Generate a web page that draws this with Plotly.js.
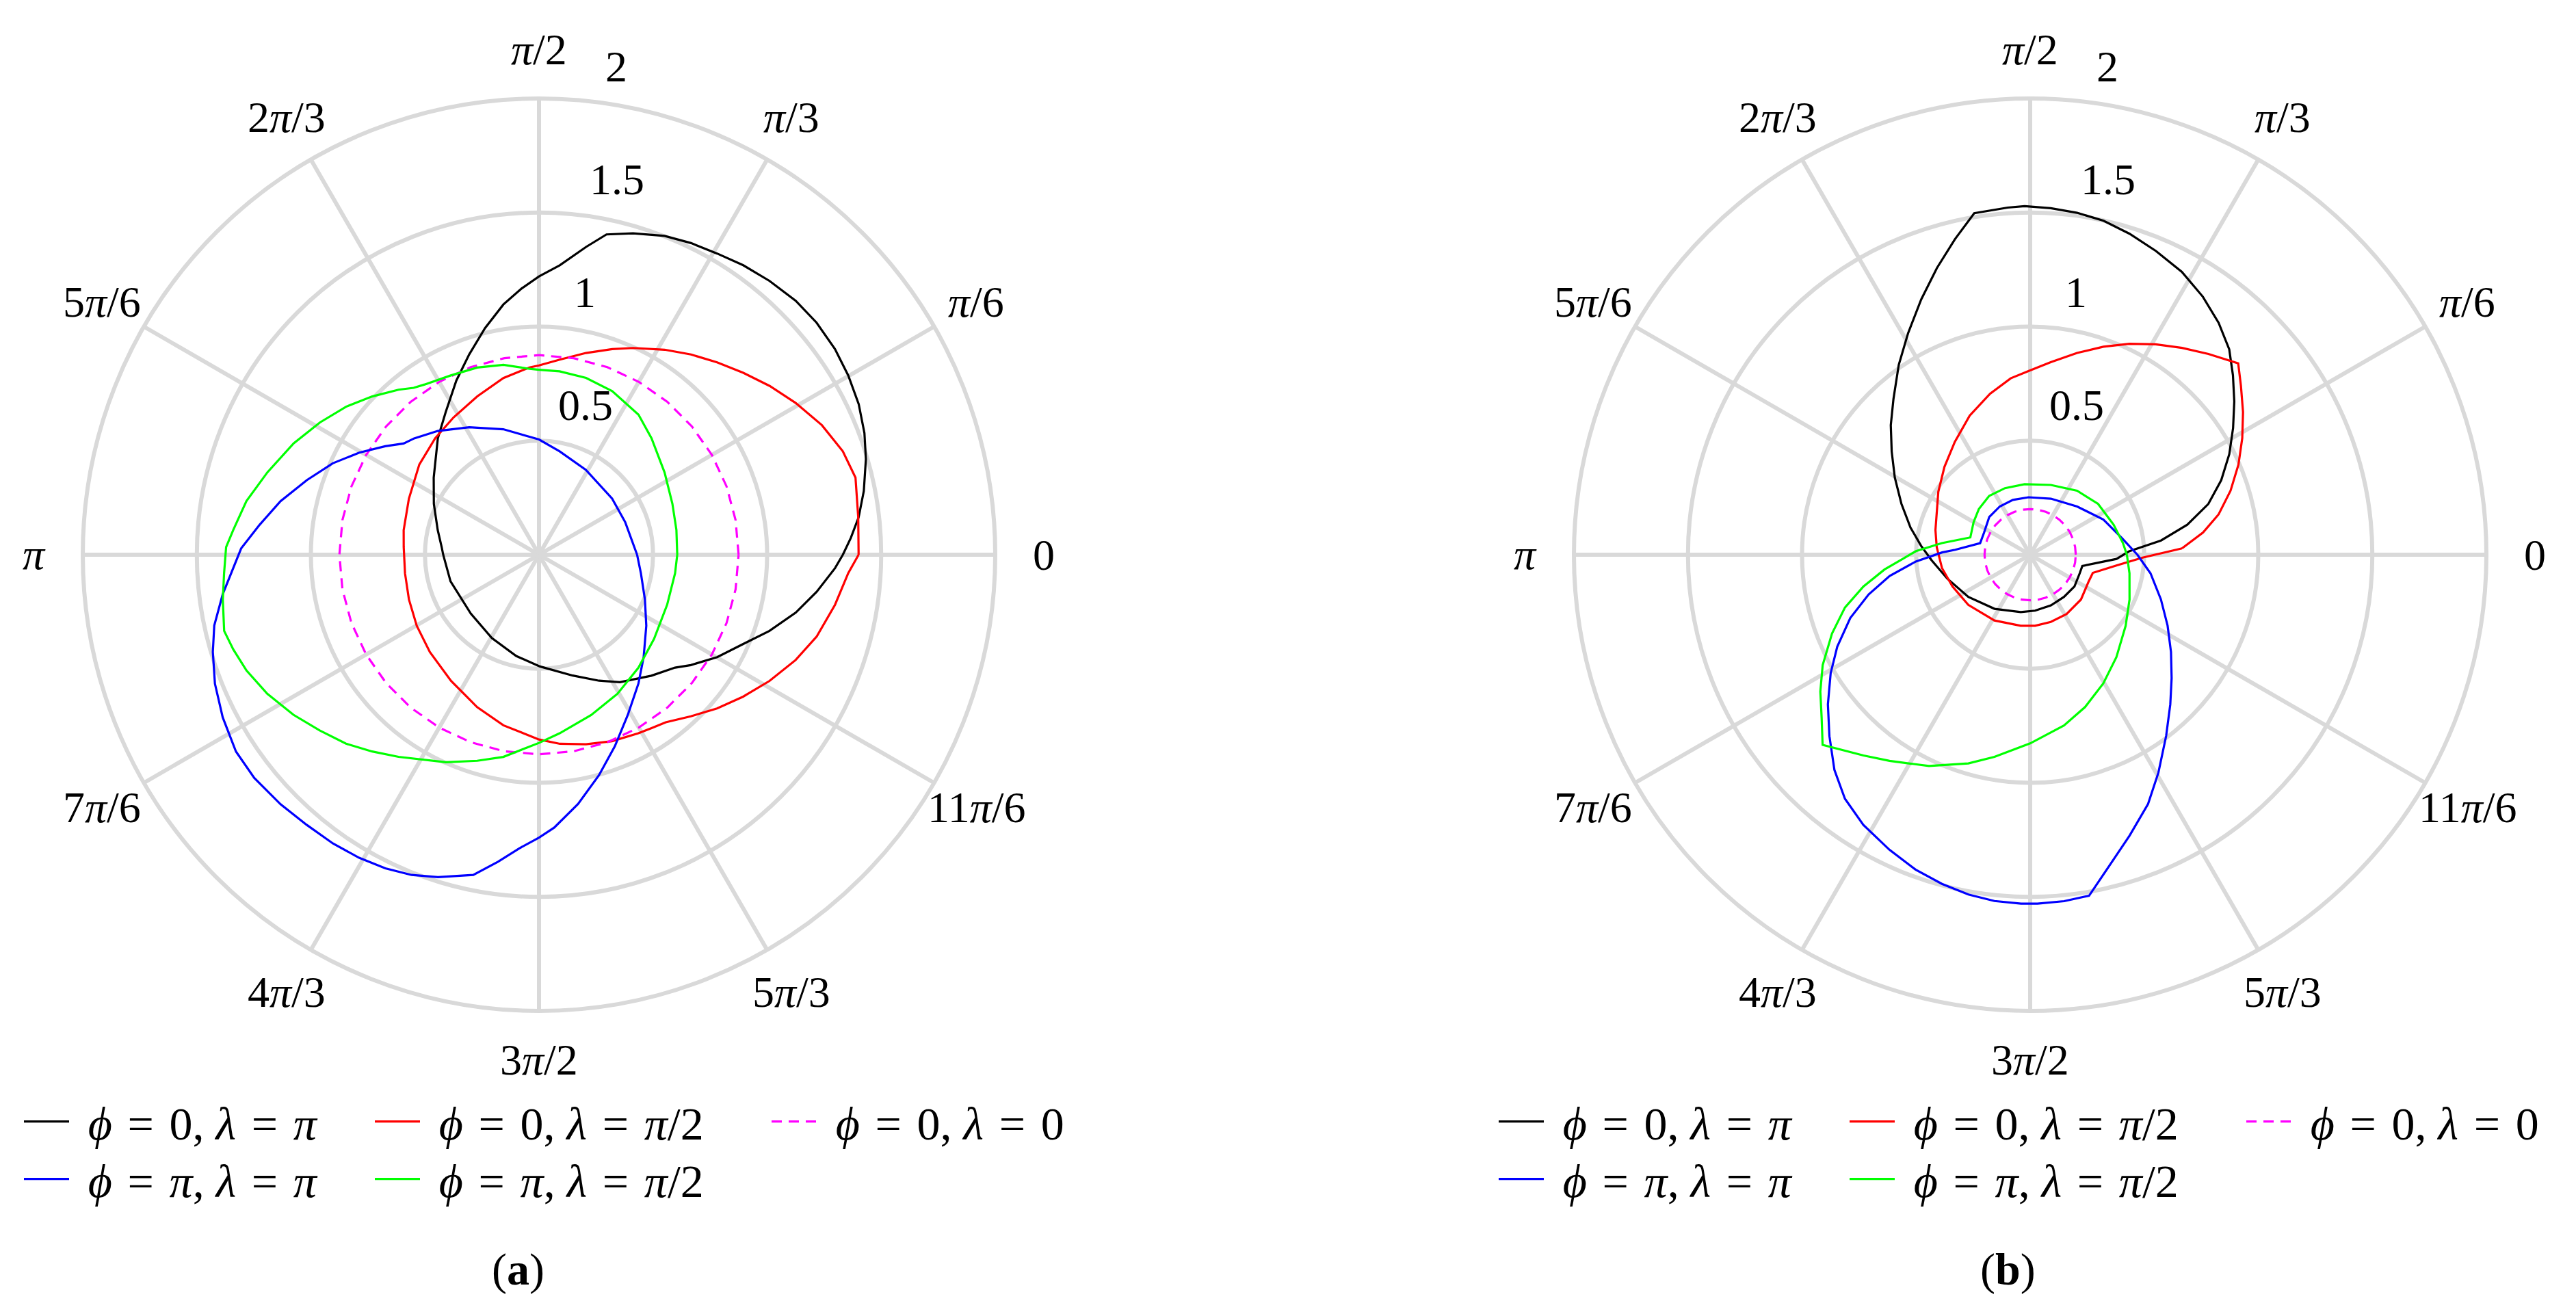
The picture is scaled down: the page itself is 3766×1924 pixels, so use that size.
<!DOCTYPE html>
<html>
<head>
<meta charset="utf-8">
<script src="https://cdn.plot.ly/plotly-3.0.1.min.js"></script>
<style>
html,body{margin:0;padding:0;background:#ffffff;}
#chart{width:3766px;height:1924px;}
</style>
</head>
<body>
<div id="chart"></div>
<script>
// ---------------- data (theta in degrees, r) ----------------
// Panel (a)
const thetaA_black = [0,3.1,6.7,11.1,16.3,20.5,25.2,30.1,34.8,39.9,44.7,49.9,54.8,59.4,64.0,68.5,73.7,78.1,81.3,85.9,90,93.7,98.1,103.4,109.2,115.4,123.2,131.0,143.8,154.2,166.3,175.5,180,196.7,220.8,240.5,257.3,270.5,285.6,295.5,302.4,312.9,320.3,324.0,330.1,336.4,341.7,347.3,352.4,357.4,360];
const rA_black     = [1.332,1.369,1.411,1.451,1.493,1.523,1.549,1.567,1.580,1.586,1.583,1.569,1.553,1.534,1.520,1.502,1.468,1.435,1.365,1.272,1.220,1.170,1.108,1.021,0.930,0.845,0.747,0.676,0.572,0.512,0.457,0.428,0.420,0.405,0.395,0.420,0.455,0.490,0.550,0.612,0.662,0.724,0.775,0.823,0.901,0.977,1.064,1.154,1.228,1.299,1.332];

const thetaA_red = [0,6.7,13.7,18.8,24.6,30.6,36.2,41.7,47.2,52.8,58.5,65.5,70.4,76.9,83.9,90,92.9,101.4,111.3,121.9,131.7,143.0,156.7,169.7,176.8,187.9,199.0,210.2,221.7,235.1,247.9,258.2,270,276.3,283.9,291.4,299.1,303.0,307.1,313.2,319.2,325.2,331.3,337.7,343.6,350.4,356.6,360];
const rA_red     = [1.401,1.409,1.428,1.407,1.364,1.307,1.253,1.199,1.149,1.102,1.054,0.996,0.957,0.908,0.860,0.830,0.822,0.790,0.745,0.709,0.684,0.657,0.621,0.603,0.594,0.593,0.603,0.620,0.641,0.674,0.721,0.764,0.810,0.834,0.856,0.878,0.896,0.906,0.921,0.972,1.031,1.090,1.152,1.216,1.269,1.316,1.358,1.401];

const thetaA_magenta = [0,10,20,30,40,50,60,70,80,90,100,110,120,130,140,150,160,170,180,190,200,210,220,230,240,250,260,270,280,290,300,310,320,330,340,350,360];
const rA_magenta     = [0.875,0.875,0.875,0.875,0.875,0.875,0.875,0.875,0.875,0.875,0.875,0.875,0.875,0.875,0.875,0.875,0.875,0.875,0.875,0.875,0.875,0.875,0.875,0.875,0.875,0.875,0.875,0.875,0.875,0.875,0.875,0.875,0.875,0.875,0.875,0.875,0.875];

const thetaA_blue = [0,20.7,37.5,61.1,78.7,90,105.9,118.7,129.3,137.0,140.6,144.8,150.4,156.1,162.2,168.3,173.9,178.8,187.1,192.3,196.6,201.7,207.2,213.0,218.1,224.0,229.3,234.5,239.3,243.9,248.3,252.6,258.4,262.4,266.1,270,273.2,278.9,285.2,291.6,299.0,307.7,315.6,326.5,337.1,349.7,360];
const rA_blue     = [0.430,0.404,0.404,0.425,0.462,0.505,0.572,0.637,0.701,0.748,0.768,0.825,0.906,0.989,1.069,1.157,1.232,1.306,1.397,1.457,1.492,1.529,1.559,1.584,1.586,1.575,1.562,1.555,1.545,1.531,1.511,1.481,1.433,1.358,1.291,1.240,1.198,1.106,1.002,0.903,0.803,0.713,0.642,0.564,0.504,0.454,0.430];

const thetaA_green = [0,10.2,20.9,33.2,46.0,54.6,65.9,75.1,83.6,90,92.9,100.6,108.3,116.2,123.9,126.9,130.4,136.5,142.5,148.9,155.6,163.1,169.6,175.4,178.6,183.4,188.1,193.6,197.2,201.6,207.1,213.1,218.7,224.4,229.7,235.2,245.8,253.3,260,270,276.6,288,299.4,311.3,323.8,338.7,352.2,360];
const rA_green     = [0.606,0.612,0.626,0.658,0.710,0.753,0.786,0.802,0.809,0.811,0.816,0.847,0.864,0.876,0.899,0.915,0.950,1.008,1.066,1.122,1.181,1.244,1.304,1.345,1.372,1.383,1.400,1.420,1.403,1.379,1.338,1.285,1.232,1.184,1.131,1.079,0.997,0.943,0.900,0.825,0.788,0.739,0.700,0.660,0.625,0.603,0.602,0.606];

// Panel (b)
const thetaB_black = [2.1,6.2,10.8,15.9,21.3,26.8,32.0,36.9,41.5,45.9,50.9,56.2,61.8,67.5,72.8,77.6,82.2,86.6,90.9,93.7,99.3,103.4,108.0,113.1,118.9,124.7,131.3,137.1,143.3,150.3,158.4,167.2,175.3,183.2,196.1,214.3,236.6,260.7,275.1,292.3,308.7,324.4,339.4,347.8,357.2,362.1];
const rB_black     = [0.436,0.577,0.701,0.812,0.899,0.978,1.049,1.119,1.187,1.254,1.310,1.361,1.407,1.441,1.473,1.499,1.513,1.522,1.528,1.525,1.517,1.422,1.322,1.217,1.108,1.012,0.908,0.834,0.757,0.683,0.607,0.538,0.480,0.433,0.378,0.328,0.284,0.255,0.246,0.240,0.237,0.239,0.232,0.234,0.379,0.436];

const thetaB_red = [2.4,7.3,12.1,17.7,23.4,28.8,33.8,38.7,42.6,48.4,53.7,59.2,64.8,70.6,76.9,83.9,90,96.3,104.0,113.5,123.7,134.3,145.6,165.4,175.3,188.6,202.2,219.0,241.5,262.4,274.0,287.1,301.6,318.6,335.7,343.9,352.9,358.5,362.4];
const rB_red     = [0.666,0.764,0.845,0.922,0.995,1.061,1.123,1.184,1.239,1.177,1.125,1.074,1.022,0.967,0.908,0.849,0.808,0.778,0.727,0.665,0.595,0.538,0.488,0.429,0.411,0.391,0.368,0.349,0.328,0.314,0.312,0.308,0.305,0.297,0.282,0.286,0.381,0.493,0.666];

const thetaB_magenta = [0,10,20,30,40,50,60,70,80,90,100,110,120,130,140,150,160,170,180,190,200,210,220,230,240,250,260,270,280,290,300,310,320,330,340,350,360];
const rB_magenta     = [0.2,0.2,0.2,0.2,0.2,0.2,0.2,0.2,0.2,0.2,0.2,0.2,0.2,0.2,0.2,0.2,0.2,0.2,0.2,0.2,0.2,0.2,0.2,0.2,0.2,0.2,0.2,0.2,0.2,0.2,0.2,0.2,0.2,0.2,0.2,0.2,0.2];

const thetaB_blue = [0,10.4,25.7,45.8,69.7,91.6,107.5,122.2,137.3,154.5,167.0,176.2,178.5,183.4,188.6,193.8,199.4,205.5,210.7,216.5,222.1,227.7,232.8,238.3,244.5,250,255,259.7,264.1,268.5,271.2,275.6,279.8,284.1,289.5,295.3,300.5,306.9,313.1,318.9,325.4,332.7,341.1,351.2,360];
const rB_blue     = [0.470,0.408,0.356,0.295,0.262,0.252,0.252,0.250,0.244,0.224,0.225,0.329,0.386,0.502,0.623,0.729,0.836,0.937,1.017,1.103,1.186,1.275,1.343,1.392,1.433,1.469,1.494,1.514,1.526,1.530,1.530,1.526,1.517,1.411,1.306,1.209,1.108,0.993,0.899,0.823,0.750,0.678,0.606,0.534,0.470];

const thetaB_green = [0,7.1,19.7,36.8,53.7,73.5,94.5,110.7,124.9,138.4,150.1,163.9,172.5,178.2,181.9,185.8,190.8,195.9,201.7,208.0,213.1,218.0,222.5,230.3,235.7,244.4,253.5,260,270,281.2,289.8,299.6,310.1,323.3,335.7,349.4,360];
const rB_green     = [0.424,0.410,0.389,0.372,0.348,0.319,0.310,0.312,0.314,0.301,0.286,0.273,0.390,0.501,0.559,0.642,0.744,0.844,0.935,1.030,1.098,1.160,1.234,1.144,1.094,1.027,0.954,0.900,0.827,0.763,0.710,0.649,0.587,0.522,0.478,0.443,0.424];

// ticks and labels
const angularTickVals = [0,30,60,90,120,150,180,210,240,270,300,330];
const angularTickText = ['0','<i>π</i>/6','<i>π</i>/3','<i>π</i>/2','2<i>π</i>/3','5<i>π</i>/6','<i>π</i>','7<i>π</i>/6','4<i>π</i>/3','3<i>π</i>/2','5<i>π</i>/3','11<i>π</i>/6'];
const radialTickVals = [0.5,1,1.5,2];
const radialTickText = ['0.5','1','1.5','2'];
const SP = '\u2004';
const seriesNames = [
  SP + '<i>ϕ</i>' + SP + '=' + SP + '0, <i>λ</i>' + SP + '=' + SP + '<i>π</i>',
  SP + '<i>ϕ</i>' + SP + '=' + SP + '0, <i>λ</i>' + SP + '=' + SP + '<i>π</i>/2',
  SP + '<i>ϕ</i>' + SP + '=' + SP + '0, <i>λ</i>' + SP + '=' + SP + '0',
  SP + '<i>ϕ</i>' + SP + '=' + SP + '<i>π</i>, <i>λ</i>' + SP + '=' + SP + '<i>π</i>',
  SP + '<i>ϕ</i>' + SP + '=' + SP + '<i>π</i>, <i>λ</i>' + SP + '=' + SP + '<i>π</i>/2'
];
const panelTitles = ['(<b>a</b>)','(<b>b</b>)'];

// ---------------- styling / geometry ----------------
const W = 3766, H = 1924;
const FONT = 'Liberation Serif, Times New Roman, serif';
const GRID = '#d9d9d9';
const R = 667;                 // polar radius in px
const centersPx = [[788, 811], [2968, 811]];
const colors = ['#000000', '#ff0000', '#ff00ff', '#0000ff', '#00ff00'];

function dom(c) {
  return {
    x: [(c[0] - R) / W, (c[0] + R) / W],
    y: [1 - (c[1] + R) / H, 1 - (c[1] - R) / H]
  };
}

function curve(theta, r, idx, subplot, legend, lw) {
  const t = {
    type: 'scatterpolar', mode: 'lines', subplot: subplot,
    theta: theta, r: r, thetaunit: 'degrees',
    name: seriesNames[idx], legend: legend,
    line: {color: colors[idx], width: 3.2, dash: idx === 2 ? '15px,10px' : 'solid'},
    hoverinfo: 'skip', cliponaxis: false
  };
  if (lw) t.legendwidth = lw;
  return t;
}

const traces = [
  curve(thetaA_black, rA_black, 0, 'polar', 'legend', 432),
  curve(thetaA_red, rA_red, 1, 'polar', 'legend', 499),
  curve(thetaA_magenta, rA_magenta, 2, 'polar', 'legend', 0),
  curve(thetaA_blue, rA_blue, 3, 'polar', 'legend2', 432),
  curve(thetaA_green, rA_green, 4, 'polar', 'legend2', 499),
  curve(thetaB_black, rB_black, 0, 'polar2', 'legend3', 432),
  curve(thetaB_red, rB_red, 1, 'polar2', 'legend3', 499),
  curve(thetaB_magenta, rB_magenta, 2, 'polar2', 'legend3', 0),
  curve(thetaB_blue, rB_blue, 3, 'polar2', 'legend4', 432),
  curve(thetaB_green, rB_green, 4, 'polar2', 'legend4', 499)
];

function polarCfg(c) {
  return {
    domain: dom(c),
    bgcolor: '#ffffff',
    angularaxis: {
      direction: 'counterclockwise', rotation: 0,
      tickmode: 'array', tickvals: angularTickVals,
      showticklabels: false, ticks: '',
      showgrid: true, gridcolor: GRID, gridwidth: 6,
      showline: true, linecolor: GRID, linewidth: 6,
      layer: 'below traces'
    },
    radialaxis: {
      range: [0, 2], tickmode: 'array', tickvals: radialTickVals,
      showticklabels: false, ticks: '', showline: false,
      showgrid: true, gridcolor: GRID, gridwidth: 6,
      layer: 'below traces'
    }
  };
}

// tick labels placed around each polar disc
const annotations = [];
const LABEL_K = 1.107;
const RAD_ANG = 82.1 * Math.PI / 180;
centersPx.forEach((c, p) => {
  angularTickVals.forEach((a, i) => {
    const t = a * Math.PI / 180;
    const px = c[0] + LABEL_K * R * Math.cos(t);
    const py = c[1] - LABEL_K * R * Math.sin(t);
    annotations.push({
      xref: 'paper', yref: 'paper', x: px / W, y: 1 - py / H,
      text: angularTickText[i], showarrow: false,
      xanchor: 'center', yanchor: 'middle',
      font: {family: FONT, size: 64, color: '#000'}
    });
  });
  radialTickVals.forEach((v, i) => {
    const rr = v / 2 * R;
    const px = c[0] + rr * Math.cos(RAD_ANG) + 3;
    const py = c[1] - rr * Math.sin(RAD_ANG) - 53;
    annotations.push({
      xref: 'paper', yref: 'paper', x: px / W, y: 1 - py / H,
      text: radialTickText[i], showarrow: false,
      xanchor: 'left', yanchor: 'middle',
      font: {family: FONT, size: 64, color: '#000'}
    });
  });
});
annotations.push({xref:'paper', yref:'paper', x: 757 / W, y: 1 - 1856 / H, text: panelTitles[0], showarrow:false, xanchor:'center', yanchor:'middle', font:{family: FONT, size: 66, color:'#000'}});
annotations.push({xref:'paper', yref:'paper', x: 2935 / W, y: 1 - 1856 / H, text: panelTitles[1], showarrow:false, xanchor:'center', yanchor:'middle', font:{family: FONT, size: 66, color:'#000'}});

const legendBase = {
  orientation: 'h', xanchor: 'left', yanchor: 'middle',
  bgcolor: 'rgba(0,0,0,0)', borderwidth: 0, itemwidth: 66,
  font: {family: FONT, size: 68, color: '#000'},
  itemclick: false, itemdoubleclick: false, tracegroupgap: 0
};

const layout = {
  width: W, height: H,
  margin: {l: 0, r: 0, t: 0, b: 0},
  paper_bgcolor: '#ffffff',
  font: {family: FONT, size: 64, color: '#000'},
  showlegend: true,
  polar: polarCfg(centersPx[0]),
  polar2: polarCfg(centersPx[1]),
  legend:  Object.assign({}, legendBase, {x: 30 / W,   y: 1 - 1640 / H}),
  legend2: Object.assign({}, legendBase, {x: 30 / W,   y: 1 - 1724 / H}),
  legend3: Object.assign({}, legendBase, {x: 2186 / W, y: 1 - 1640 / H}),
  legend4: Object.assign({}, legendBase, {x: 2186 / W, y: 1 - 1724 / H}),
  annotations: annotations
};

Plotly.newPlot('chart', traces, layout, {displayModeBar: false, staticPlot: true});
</script>
</body>
</html>
